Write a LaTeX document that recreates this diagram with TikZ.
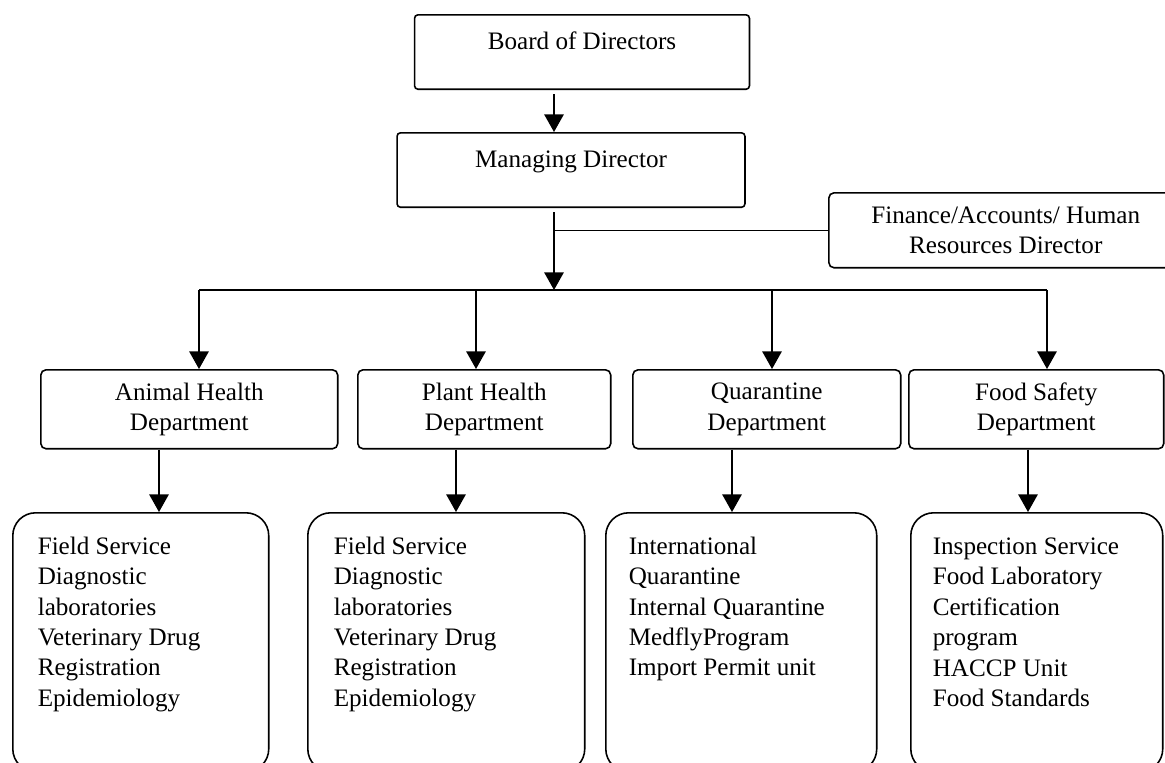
\documentclass[tikz,border=0pt]{standalone}
\usepackage{fontspec}
\setmainfont{Liberation Serif}
\usetikzlibrary{arrows.meta}

\begin{document}
\begin{tikzpicture}[x=0.02cm, y=-0.02cm, line width=0.9pt,
    font=\fontsize{14.3}{17.3}\selectfont,
    arr/.style={-{Triangle[width=11pt,length=10pt]}},
    headbox/.style={draw, rounded corners=2pt, inner sep=0pt, text height=0.69cm, text depth=0.8cm},
    deptbox/.style={draw, rounded corners=3pt, inner sep=0pt, align=center, minimum height=1.58cm},
    listbox/.style={draw, rounded corners=13pt, inner sep=0pt, minimum height=5.18cm},
    listtext/.style={align=left, inner sep=0pt}]
    \useasboundingbox (0,0) rectangle (1165,762);
    \clip (0,0) rectangle (1165,762);

    % Board and director
    \node[headbox, minimum width=6.7cm, anchor=north] (board) at (582,14) {Board of Directors};
    \node[headbox, minimum width=6.96cm, anchor=north] (manag) at (571,132) {Managing Director};
    \node[draw, rounded corners=3pt, align=center, inner sep=0pt, minimum width=7.08cm,
        minimum height=1.5cm, anchor=north west] (fin) at (828,192) {Finance/Accounts/ Human\\Resources Director};

    \coordinate (bar) at (554,290);
    \draw[arr, shorten <=0.08cm] (board.south -| bar) -- (manag.north -| bar);
    \draw[arr, shorten <=0.08cm] (manag.south -| bar) -- (bar);
    \draw (fin.west -| bar) -- (fin.west); % staff line

    % Departments
    \node[deptbox, minimum width=5.94cm, anchor=north west] (animal) at (40,369) {Animal Health\\Department};
    \node[deptbox, minimum width=5.06cm, anchor=north west] (plant) at (357,369) {Plant Health\\Department};
    \node[deptbox, minimum width=5.36cm, anchor=north west] (quar) at (632,369) {Quarantine\\Department};
    \node[deptbox, minimum width=5.1cm, anchor=north west] (food) at (908,369) {Food Safety\\Department};

    \draw (bar -| 199,0) -- (bar -| 1047,0);
    \foreach \d/\x in {animal/199, plant/476, quar/772, food/1047} {
        \draw[arr] (bar -| \x,0) -- (\d.north -| \x,0);
    }

    % Units
    \node[listbox, minimum width=5.12cm, anchor=north west] (alist) at (12,512) {};
    \node[listbox, minimum width=5.54cm, anchor=north west] (plist) at (307,512) {};
    \node[listbox, minimum width=5.42cm, anchor=north west] (qlist) at (605,512) {};
    \node[listbox, minimum width=5.04cm, anchor=north west] (flist) at (910,512) {};

    \foreach \d/\l/\x in {animal/alist/159, plant/plist/456, quar/qlist/732, food/flist/1028} {
        \draw[arr] (\d.south -| \x,0) -- (\l.north -| \x,0);
    }

    \node[listtext, anchor=north west] (atext) at (37,536)
        {Field Service\\Diagnostic\\laboratories\\Veterinary Drug\\Registration\\Epidemiology};
    \node[listtext, anchor=north west] (ptext) at (333,536)
        {Field Service\\Diagnostic\\laboratories\\Veterinary Drug\\Registration\\Epidemiology};
    \node[listtext, anchor=north west] (qtext) at (628,536)
        {International\\Quarantine\\Internal Quarantine\\MedflyProgram\\Import Permit unit};
    \node[listtext, anchor=north west] (ftext) at (932,537)
        {Inspection Service\\Food Laboratory\\Certification\\program\\HACCP Unit\\Food Standards};
\end{tikzpicture}
\end{document}
